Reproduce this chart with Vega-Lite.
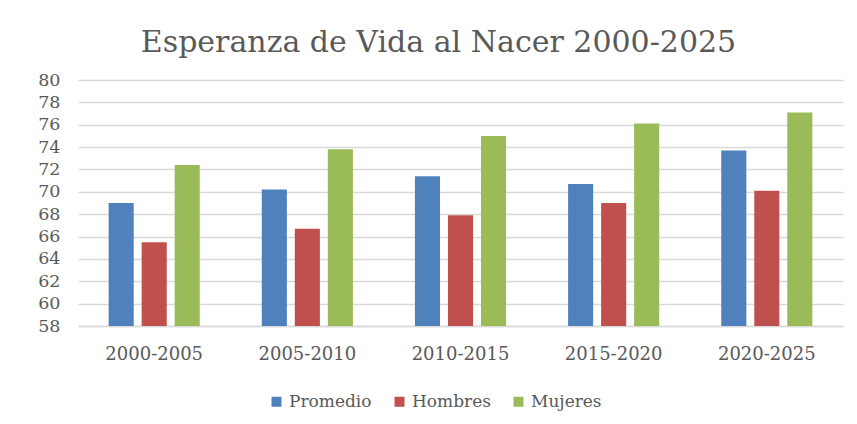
{
  "$schema": "https://vega.github.io/schema/vega-lite/v6.json",
  "width": 765,
  "height": 246,
  "autosize": {"type": "none"},
  "padding": {"left": 78, "top": 80, "right": 14, "bottom": 98},
  "background": "white",
  "title": {
    "text": "Esperanza de Vida al Nacer 2000-2025",
    "font": "DejaVu Serif",
    "fontSize": 30,
    "fontWeight": "normal",
    "color": "#595959",
    "anchor": "middle",
    "dx": -22,
    "offset": 13
  },
  "data": {
    "values": [
      {"periodo": "2000-2005", "serie": "Promedio", "valor": 69.0},
      {"periodo": "2000-2005", "serie": "Hombres", "valor": 65.5},
      {"periodo": "2000-2005", "serie": "Mujeres", "valor": 72.4},
      {"periodo": "2005-2010", "serie": "Promedio", "valor": 70.2},
      {"periodo": "2005-2010", "serie": "Hombres", "valor": 66.7},
      {"periodo": "2005-2010", "serie": "Mujeres", "valor": 73.8},
      {"periodo": "2010-2015", "serie": "Promedio", "valor": 71.4},
      {"periodo": "2010-2015", "serie": "Hombres", "valor": 67.9},
      {"periodo": "2010-2015", "serie": "Mujeres", "valor": 75.0},
      {"periodo": "2015-2020", "serie": "Promedio", "valor": 70.7},
      {"periodo": "2015-2020", "serie": "Hombres", "valor": 69.0},
      {"periodo": "2015-2020", "serie": "Mujeres", "valor": 76.1},
      {"periodo": "2020-2025", "serie": "Promedio", "valor": 73.7},
      {"periodo": "2020-2025", "serie": "Hombres", "valor": 70.1},
      {"periodo": "2020-2025", "serie": "Mujeres", "valor": 77.1}
    ]
  },
  "mark": {"type": "bar", "clip": true},
  "encoding": {
    "x": {
      "field": "periodo",
      "type": "nominal",
      "title": null,
      "scale": {"paddingInner": 0.405, "paddingOuter": 0.2},
      "axis": {
        "labelAngle": 0,
        "labelFont": "DejaVu Serif",
        "labelFontSize": 18,
        "labelColor": "#595959",
        "labelPadding": 19,
        "ticks": false,
        "domainColor": "#d9d9d9",
        "domainWidth": 1.5
      }
    },
    "xOffset": {
      "field": "serie",
      "type": "nominal",
      "sort": ["Promedio", "Hombres", "Mujeres"],
      "scale": {"paddingInner": 0.24, "paddingOuter": 0}
    },
    "y": {
      "field": "valor",
      "type": "quantitative",
      "title": null,
      "scale": {"domain": [58, 80], "nice": false, "zero": false},
      "axis": {
        "values": [58, 60, 62, 64, 66, 68, 70, 72, 74, 76, 78, 80],
        "labelFont": "DejaVu Serif",
        "labelFontSize": 17.5,
        "labelColor": "#595959",
        "labelPadding": 18,
        "ticks": false,
        "domain": false,
        "gridColor": "#d9d9d9",
        "gridWidth": 1.5
      }
    },
    "color": {
      "field": "serie",
      "type": "nominal",
      "sort": ["Promedio", "Hombres", "Mujeres"],
      "scale": {
        "domain": ["Promedio", "Hombres", "Mujeres"],
        "range": ["#4F81BD", "#C0504D", "#9BBB59"]
      },
      "legend": {
        "title": null,
        "orient": "none",
        "legendX": 190,
        "legendY": 313,
        "direction": "horizontal",
        "symbolType": "square",
        "symbolSize": 100,
        "symbolStrokeWidth": 0,
        "labelFont": "DejaVu Serif",
        "labelFontSize": 17,
        "labelColor": "#595959",
        "columnPadding": 19,
        "labelOffset": 4
      }
    }
  },
  "config": {
    "view": {"stroke": null}
  }
}
